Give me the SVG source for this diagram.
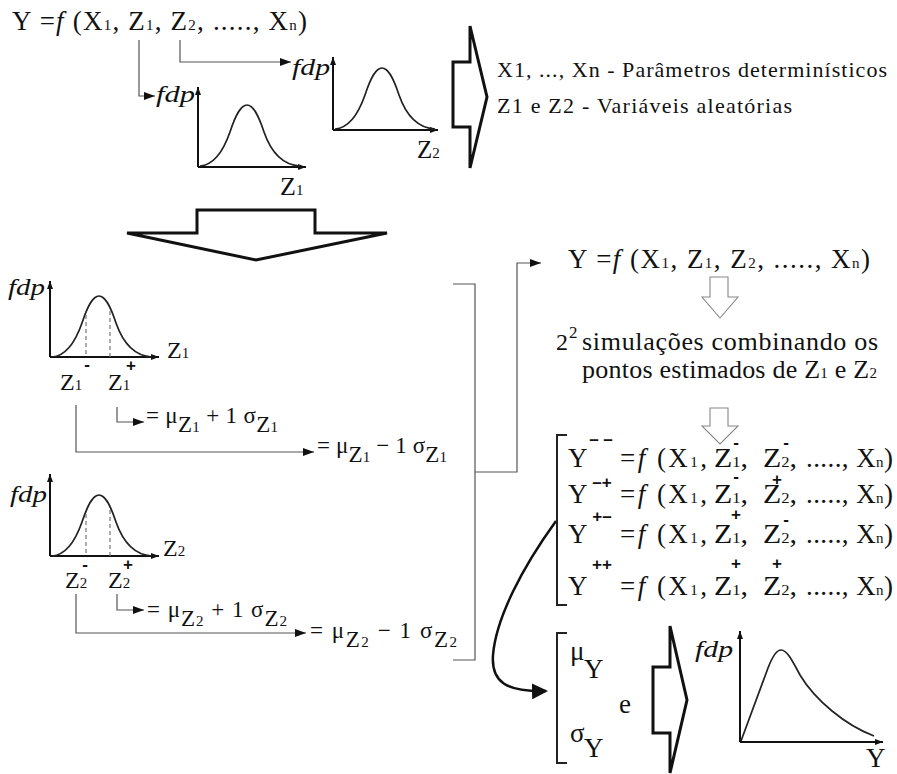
<svg xmlns="http://www.w3.org/2000/svg" xmlns:xlink="http://www.w3.org/1999/xlink" width="897" height="774" viewBox="0 0 897 774">
<style>
.t{font-family:"Liberation Serif","Times New Roman","DejaVu Serif",serif;fill:#111}
.eq{font-size:27px}
.md{font-size:24px}
.sm{font-size:22px}
.it{font-style:italic}
.sub{font-size:15px}
.sup{font-family:"Liberation Sans",Arial,sans-serif;font-weight:bold;font-size:17px;fill:#111;text-anchor:middle}
.ax{stroke:#111;stroke-width:2;fill:none}
.curve{stroke:#222;stroke-width:1.7;fill:none}
.conn{stroke:#555;stroke-width:1.2;fill:none}
.big{stroke:#111;stroke-width:3;fill:#fff;stroke-linejoin:miter}
.small{stroke:#888;stroke-width:1.1;fill:#fff}
.dash{stroke:#777;stroke-width:1.2;stroke-dasharray:4 3;fill:none}
.brk{stroke:#222;stroke-width:2;fill:none}
</style>
<defs>
<marker id="ah" markerUnits="userSpaceOnUse" markerWidth="11" markerHeight="8" refX="11" refY="4" orient="auto"><path d="M0,0 L11,4 L0,8 Z" fill="#111"/></marker>
<marker id="axh" markerUnits="userSpaceOnUse" markerWidth="8" markerHeight="6" refX="8" refY="3" orient="auto"><path d="M0,0 L8,3 L0,6 Z" fill="#111"/></marker>
<marker id="bigh" markerUnits="userSpaceOnUse" markerWidth="16" markerHeight="16" refX="14" refY="8" orient="auto"><path d="M0,0 L16,8 L0,16 Z" fill="#111"/></marker>
<path id="bell" d="M0,0 C14,-1 23,-14 30,-34 C36,-52 41,-61 47,-61 C53,-61 58,-52 64,-34 C71,-14 82,-1 100,0"/>
</defs>

<g id="top-equation">
<text class="t eq" x="12" y="30" textLength="295" lengthAdjust="spacing">Y =<tspan class="it">f</tspan> (X<tspan class="sub">1</tspan>, Z<tspan class="sub">1</tspan>, Z<tspan class="sub">2</tspan>, ....., X<tspan class="sub">n</tspan>)</text>
</g>

<g id="graph-z1-top">
<text class="t it" font-size="23" x="156" y="102" textLength="39" lengthAdjust="spacingAndGlyphs">fdp</text>
<path class="ax" d="M198,167 V87" marker-end="url(#axh)"/>
<path class="ax" d="M198,167 H306" marker-end="url(#axh)"/>
<use xlink:href="#bell" class="curve" transform="translate(200,166)"/>
<text class="t" font-size="26" x="280" y="195">Z<tspan class="sub">1</tspan></text>
</g>

<g id="graph-z2-top">
<text class="t it" font-size="23" x="292" y="75" textLength="38" lengthAdjust="spacingAndGlyphs">fdp</text>
<path class="ax" d="M333,130 V57" marker-end="url(#axh)"/>
<path class="ax" d="M333,130 H438" marker-end="url(#axh)"/>
<use xlink:href="#bell" class="curve" transform="translate(335,129)"/>
<text class="t" font-size="25" x="417" y="158">Z<tspan class="sub">2</tspan></text>
</g>

<g id="big-right-arrow">
<path class="big" d="M453,62 H470 V26 L487,97 L470,168 V127 H453 Z"/>
</g>

<g id="legend">
<text class="t sm" x="497" y="77" textLength="390" lengthAdjust="spacing">X1, ..., Xn - Parâmetros determinísticos</text>
<text class="t sm" x="497" y="113" textLength="295" lengthAdjust="spacing">Z1 e Z2 - Variáveis aleatórias</text>
</g>

<g id="big-down-arrow">
<path class="big" d="M197,233 V210 H315 V233 H387 L256,260 L127,233 Z"/>
</g>

<g id="graph-z1-mid">
<text class="t it" font-size="23" x="8" y="295" textLength="37" lengthAdjust="spacingAndGlyphs">fdp</text>
<path class="ax" d="M50,357 V281" marker-end="url(#axh)"/>
<path class="ax" d="M50,357 H159" marker-end="url(#axh)"/>
<use xlink:href="#bell" class="curve" transform="translate(52,357)"/>
<path class="dash" d="M86,315 V357 M110,311 V357"/>
<text class="t md" x="167" y="358">Z<tspan class="sub">1</tspan></text>
<text class="t md" x="60" y="390">Z<tspan class="sub">1</tspan></text>
<text class="sup" x="87" y="370">-</text>
<text class="t md" x="108" y="390">Z<tspan class="sub">1</tspan></text>
<text class="sup" x="131" y="371">+</text>
<text class="t" font-size="23" x="146" y="423" textLength="132" lengthAdjust="spacing">= μ<tspan dy="9">Z<tspan class="sub">1</tspan></tspan><tspan dy="-9"> + 1 σ</tspan><tspan dy="9">Z<tspan class="sub">1</tspan></tspan></text>
<text class="t" font-size="23" x="317" y="453" textLength="130" lengthAdjust="spacing">= μ<tspan dy="9">Z<tspan class="sub">1</tspan></tspan><tspan dy="-9"> − 1 σ</tspan><tspan dy="9">Z<tspan class="sub">1</tspan></tspan></text>
</g>

<g id="graph-z2-mid">
<text class="t it" font-size="23" x="10" y="502" textLength="37" lengthAdjust="spacingAndGlyphs">fdp</text>
<path class="ax" d="M50,556 V474" marker-end="url(#axh)"/>
<path class="ax" d="M50,556 H159" marker-end="url(#axh)"/>
<use xlink:href="#bell" class="curve" transform="translate(52,556)"/>
<path class="dash" d="M86,514 V556 M110,510 V556"/>
<text class="t md" x="163" y="556">Z<tspan class="sub">2</tspan></text>
<text class="t md" x="65" y="588">Z<tspan class="sub">2</tspan></text>
<text class="sup" x="85" y="570">-</text>
<text class="t md" x="108" y="588">Z<tspan class="sub">2</tspan></text>
<text class="sup" x="128" y="570">+</text>
<text class="t" font-size="23" x="147" y="617" textLength="140" lengthAdjust="spacing">= μ<tspan dy="9">Z<tspan class="sub">2</tspan></tspan><tspan dy="-9"> + 1 σ</tspan><tspan dy="9">Z<tspan class="sub">2</tspan></tspan></text>
<text class="t" font-size="23" x="310" y="638" textLength="147" lengthAdjust="spacing">= μ<tspan dy="9">Z<tspan class="sub">2</tspan></tspan><tspan dy="-9"> − 1 σ</tspan><tspan dy="9">Z<tspan class="sub">2</tspan></tspan></text>
</g>

<g id="connectors">
<path class="conn" d="M139,40 V96 H155" marker-end="url(#ah)"/>
<path class="conn" d="M180,40 V62 H291" marker-end="url(#ah)"/>
<path class="conn" d="M117,407 V422 H144" marker-end="url(#ah)"/>
<path class="conn" d="M76,405 V452 H314" marker-end="url(#ah)"/>
<path class="conn" d="M117,594 V610 H144" marker-end="url(#ah)"/>
<path class="conn" d="M76,594 V633 H306" marker-end="url(#ah)"/>
<path class="conn" d="M453,284 H475 V660 H453"/>
<path class="conn" d="M475,472 H517 V263 H541" marker-end="url(#ah)"/>
<path stroke="#111" stroke-width="2.5" fill="none" d="M556,521 C522,568 496,618 493,655 C491,682 506,692 546,691" marker-end="url(#bigh)"/>
</g>

<g id="right-equation">
<text class="t eq" x="568" y="268" textLength="302" lengthAdjust="spacing">Y =<tspan class="it">f</tspan> (X<tspan class="sub">1</tspan>, Z<tspan class="sub">1</tspan>, Z<tspan class="sub">2</tspan>, ....., X<tspan class="sub">n</tspan>)</text>
</g>

<g id="small-arrow-1">
<path class="small" d="M710,297 V277 H728 V297 H738 L720,318 L702,297 Z"/>
</g>

<g id="simulations">
<text class="t" font-size="24" x="556" y="350">2</text>
<text class="t" font-size="17" x="569" y="338">2</text>
<text class="t" font-size="26" x="582" y="350" textLength="296" lengthAdjust="spacing">simulações combinando os</text>
<text class="t" font-size="26" x="582" y="378" textLength="295" lengthAdjust="spacing">pontos estimados de Z<tspan class="sub">1</tspan> e Z<tspan class="sub">2</tspan></text>
</g>

<g id="small-arrow-2">
<path class="small" d="M710,426 V408 H728 V426 H738 L720,444 L702,426 Z"/>
</g>

<g id="combinations">
<path class="brk" d="M567,435 H557 V605 H567"/>

<text class="t eq" x="568" y="467">Y</text>
<text class="sup" x="601" y="445" font-size="18">– –</text>
<text class="t eq" x="620" y="467" textLength="87" lengthAdjust="spacing">=<tspan class="it">f</tspan> (X<tspan class="sub">1</tspan>,</text>
<text class="t eq" x="714" y="467" textLength="34" lengthAdjust="spacingAndGlyphs">Z<tspan class="sub">1</tspan>,</text>
<text class="t eq" x="763" y="467" textLength="34" lengthAdjust="spacingAndGlyphs">Z<tspan class="sub">2</tspan>,</text>
<text class="t eq" x="806" y="467" textLength="87" lengthAdjust="spacing">....., X<tspan class="sub">n</tspan>)</text>
<text class="sup" x="736" y="448">-</text>
<text class="sup" x="786" y="448">-</text>

<text class="t eq" x="568" y="503">Y</text>
<text class="sup" x="602" y="488" font-size="18">–+</text>
<text class="t eq" x="620" y="503" textLength="87" lengthAdjust="spacing">=<tspan class="it">f</tspan> (X<tspan class="sub">1</tspan>,</text>
<text class="t eq" x="714" y="503" textLength="34" lengthAdjust="spacingAndGlyphs">Z<tspan class="sub">1</tspan>,</text>
<text class="t eq" x="763" y="503" textLength="34" lengthAdjust="spacingAndGlyphs">Z<tspan class="sub">2</tspan>,</text>
<text class="t eq" x="806" y="503" textLength="87" lengthAdjust="spacing">....., X<tspan class="sub">n</tspan>)</text>
<text class="sup" x="736" y="482">-</text>
<text class="sup" x="777" y="485">+</text>

<text class="t eq" x="568" y="543">Y</text>
<text class="sup" x="602" y="522" font-size="18">+–</text>
<text class="t eq" x="620" y="543" textLength="87" lengthAdjust="spacing">=<tspan class="it">f</tspan> (X<tspan class="sub">1</tspan>,</text>
<text class="t eq" x="714" y="543" textLength="34" lengthAdjust="spacingAndGlyphs">Z<tspan class="sub">1</tspan>,</text>
<text class="t eq" x="763" y="543" textLength="34" lengthAdjust="spacingAndGlyphs">Z<tspan class="sub">2</tspan>,</text>
<text class="t eq" x="806" y="543" textLength="87" lengthAdjust="spacing">....., X<tspan class="sub">n</tspan>)</text>
<text class="sup" x="736" y="520">+</text>
<text class="sup" x="786" y="525">-</text>

<text class="t eq" x="568" y="595">Y</text>
<text class="sup" x="602" y="570" font-size="18">++</text>
<text class="t eq" x="620" y="595" textLength="87" lengthAdjust="spacing">=<tspan class="it">f</tspan> (X<tspan class="sub">1</tspan>,</text>
<text class="t eq" x="714" y="595" textLength="34" lengthAdjust="spacingAndGlyphs">Z<tspan class="sub">1</tspan>,</text>
<text class="t eq" x="763" y="595" textLength="34" lengthAdjust="spacingAndGlyphs">Z<tspan class="sub">2</tspan>,</text>
<text class="t eq" x="806" y="595" textLength="87" lengthAdjust="spacing">....., X<tspan class="sub">n</tspan>)</text>
<text class="sup" x="736" y="569">+</text>
<text class="sup" x="777" y="569">+</text>
</g>

<g id="result-stats">
<path class="brk" d="M567,633 H557 V763 H567"/>
<text class="t eq" x="570" y="660">μ</text>
<text class="t eq" x="584" y="678">Y</text>
<text class="t eq" x="570" y="742">σ</text>
<text class="t eq" x="584" y="757">Y</text>
<text class="t eq" x="619" y="713">e</text>
</g>

<g id="big-right-arrow-2">
<path class="big" d="M653,667 H670 V626 L687,700 L670,773 V733 H653 Z"/>
</g>

<g id="graph-y">
<text class="t it" font-size="23" x="695" y="657" textLength="38" lengthAdjust="spacingAndGlyphs">fdp</text>
<path class="ax" d="M740,742 V631" marker-end="url(#axh)"/>
<path class="ax" d="M740,742 H883" marker-end="url(#axh)"/>
<path class="curve" d="M741,741 L768,668 C773,655 777,650 781,650 C787,650 792,660 800,675 C815,700 845,725 874,736"/>
<text class="t eq" x="866" y="767">Y</text>
</g>
</svg>
